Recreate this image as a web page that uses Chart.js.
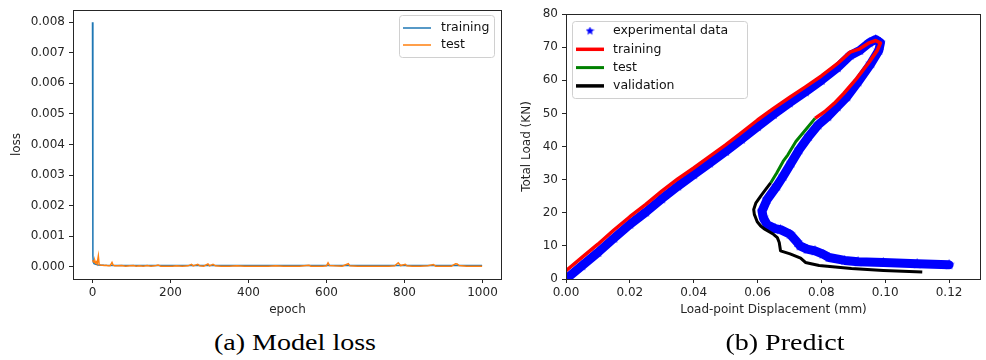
<!DOCTYPE html>
<html><head><meta charset="utf-8">
<script src="https://cdn.jsdelivr.net/npm/chart.js@4.4.1/dist/chart.umd.min.js"></script>
<style>
html,body{margin:0;padding:0;background:#fff;width:986px;height:360px;overflow:hidden;position:relative;}
#c1{position:absolute;left:0;top:0;}
#c2{position:absolute;left:500px;top:0;}
.cap{position:absolute;top:331px;width:240px;text-align:center;font-family:"Liberation Serif","Times New Roman",serif;font-size:23px;line-height:24px;color:#000;transform:scaleX(1.22);white-space:nowrap;}
</style></head><body>
<canvas id="c1" width="504" height="320"></canvas>
<canvas id="c2" width="495" height="320"></canvas>
<div class="cap" style="left:175px">(a) Model loss</div>
<div class="cap" style="left:665px">(b) Predict</div>
<script>
// ---------- (a) Model loss ----------
const lossTicksX = [0, 200, 400, 600, 800, 1000];
const lossTicksY = [0, 0.001, 0.002, 0.003, 0.004, 0.005, 0.006, 0.007, 0.008];
const lossTraining = [[0,0.008],[1,0.00035],[2,0.00015],[4,0.0001],[8,0.00008],[15,0.00006],[30,0.00005],[60,0.00004],[200,0.00004],[500,0.00004],[800,0.00004],[999,0.00004]];
const lossTest = [[0,0.00022],[2,0.00018],[4,0.00015],[6,0.0002],[8,0.00012],[10,0.00016],[12,0.0001],[15,0.00035],[17,0.00008],[20,0.00006],[25,0.00005],[30,0.00004],[35,0.00005],[40,0.00003],[45,0.00003],[50,0.00014],[53,0.00005],[57,0.00003],[65,0.00003],[75,0.00004],[85,0.00002],[95,0.00003],[105,0.00004],[112,0.00002],[120,0.00003],[130,0.00002],[140,0.00004],[150,0.00002],[160,0.00003],[168,0.00006],[175,0.00002],[190,0.00002],[205,0.00002],[215,0.00003],[230,0.00002],[245,0.00003],[254,0.00008],[258,0.00003],[270,0.00008],[275,0.00003],[285,0.00002],[296,0.00009],[300,0.00003],[309,0.00008],[315,0.00003],[330,0.00002],[350,0.00002],[370,0.00003],[390,0.00002],[410,0.00002],[430,0.00002],[450,0.00002],[470,0.00003],[490,0.00002],[510,0.00002],[530,0.00002],[555,0.00005],[560,0.00002],[575,0.00002],[590,0.00002],[600,0.00003],[604,0.00013],[608,0.00004],[620,0.00003],[640,0.00002],[656,0.0001],[660,0.00003],[680,0.00002],[700,0.00002],[720,0.00002],[740,0.00002],[760,0.00002],[775,0.00003],[784,0.00013],[790,0.00004],[802,0.00008],[806,0.00003],[820,0.00002],[840,0.00002],[860,0.00003],[874,0.00007],[880,0.00002],[900,0.00002],[920,0.00002],[931,0.0001],[935,0.00009],[940,0.00004],[960,0.00002],[980,0.00002],[999,0.00002]];

// ---------- (b) Predict ----------
const predTicksX = [0, 0.02, 0.04, 0.06, 0.08, 0.10, 0.12];
const predTicksY = [0, 10, 20, 30, 40, 50, 60, 70, 80];
const experimental = [[0,0],[0.005,4],[0.01,8],[0.015,12.3],[0.02,16.5],[0.025,20.2],[0.03,24.2],[0.035,28],[0.04,31.5],[0.045,35],[0.05,38.5],[0.055,42.2],[0.06,46],[0.065,49.7],[0.07,53.2],[0.075,56.5],[0.08,60],[0.085,63.8],[0.089,67.5],[0.092,69],[0.095,71.3],[0.097,72.3],[0.0985,71.3],[0.098,69],[0.0955,65],[0.0915,59.5],[0.088,55],[0.085,52],[0.082,49],[0.079,46.5],[0.076,43],[0.073,39],[0.0705,35],[0.068,31],[0.066,28],[0.063,24],[0.0614,20.5],[0.0618,18.5],[0.063,16.4],[0.0655,15.2],[0.0672,14.9],[0.0702,13.5],[0.0725,11],[0.0733,10],[0.0755,9],[0.078,8.5],[0.0805,7.5],[0.0824,6.5],[0.0873,5.6],[0.0915,5.2],[0.0994,5],[0.11,4.6],[0.12,4.3]];
const training = [[0,2.5],[0.005,6.5],[0.01,10.5],[0.015,14.8],[0.02,18.8],[0.025,22.5],[0.03,26.5],[0.035,30.2],[0.04,33.5],[0.045,37],[0.05,40.5],[0.055,44.2],[0.06,48],[0.065,51.5],[0.07,54.8],[0.075,58],[0.08,61.3],[0.085,65],[0.089,68.5],[0.092,69.5],[0.095,71.3],[0.097,72],[0.0985,71.2],[0.0975,69],[0.095,65.5],[0.091,60.5],[0.087,56],[0.084,53],[0.081,50.5],[0.078,48.5]];
const test = [[0.078,48.5],[0.075,45],[0.072,41.5],[0.0695,37.5],[0.068,35.5],[0.066,32],[0.0641,29]];
const validation = [[0.0641,29],[0.0625,27],[0.0611,25.2],[0.0595,23],[0.0588,21],[0.059,19.5],[0.0599,17.3],[0.061,16],[0.062,15.2],[0.065,13.5],[0.0662,12.5],[0.0668,11],[0.0672,8.5],[0.0702,7.6],[0.0735,6.3],[0.075,5],[0.0793,4.1],[0.0894,3.2],[0.0994,2.6],[0.1116,2.1]];

const FONT = {family: "'DejaVu Sans', sans-serif", size: 12};
const INK = '#262626';
const pts = arr => arr.map(p => ({x: p[0], y: p[1]}));

function starImg(size, color) {
  const c = document.createElement('canvas'); c.width = c.height = size;
  const g = c.getContext('2d'); const r = size / 2, ri = r * 0.45;
  g.beginPath();
  for (let i = 0; i < 10; i++) {
    const rr = i % 2 ? ri : r; const a = -Math.PI / 2 + i * Math.PI / 5;
    g.lineTo(r + rr * Math.cos(a), r + rr * Math.sin(a));
  }
  g.closePath(); g.fillStyle = color; g.fill(); return c;
}
const starPoint = starImg(11, '#0000ff');
const starLegend = starImg(9, '#0000ff');

function xAxis(min, max, ticks, fmt, title, titlePad, height) {
  return {
    type: 'linear', min, max,
    afterBuildTicks: s => { s.ticks = ticks.map(v => ({value: v})); },
    afterFit: s => { s.height = height; s.paddingLeft = 0; s.paddingRight = 0; },
    grid: {display: true, drawOnChartArea: false, drawTicks: true, tickLength: 4, color: INK, lineWidth: 1},
    border: {display: false},
    ticks: {color: INK, font: FONT, padding: 3, maxRotation: 0, autoSkip: false, callback: v => fmt(v)},
    title: {display: true, text: title, color: INK, font: FONT, padding: {top: 0, bottom: titlePad}}
  };
}
function yAxis(min, max, ticks, fmt, title, titlePad, width) {
  return {
    type: 'linear', min, max,
    afterBuildTicks: s => { s.ticks = ticks.map(v => ({value: v})); },
    afterFit: s => { s.width = width; s.paddingTop = 0; s.paddingBottom = 0; },
    grid: {display: true, drawOnChartArea: false, drawTicks: true, tickLength: 4, color: INK, lineWidth: 1},
    border: {display: false},
    ticks: {color: INK, font: FONT, padding: 4, autoSkip: false, callback: v => fmt(v)},
    title: {display: true, text: title, color: INK, font: FONT, padding: {top: titlePad, bottom: 0}}
  };
}

const framePlugin = {
  id: 'frame',
  afterDatasetsDraw(chart) {
    const {ctx, chartArea: a} = chart;
    ctx.save(); ctx.strokeStyle = INK; ctx.lineWidth = 1;
    ctx.strokeRect(a.left + 0.5, a.top + 0.5, a.right - a.left - 1, a.bottom - a.top);
    ctx.restore();
  }
};

function legendPlugin(cfg) {
  return {
    id: 'boxLegend',
    afterDraw(chart) {
      const {ctx, chartArea: a} = chart;
      const x0 = cfg.anchor === 'right' ? a.right - cfg.dx - cfg.w : a.left + cfg.dx;
      const y0 = a.top + cfg.dy;
      ctx.save();
      ctx.beginPath();
      if (ctx.roundRect) ctx.roundRect(x0 + 0.5, y0 + 0.5, cfg.w, cfg.h, 3); else ctx.rect(x0 + 0.5, y0 + 0.5, cfg.w, cfg.h);
      ctx.fillStyle = 'rgba(255,255,255,0.85)'; ctx.fill();
      ctx.strokeStyle = '#d0d0d0'; ctx.lineWidth = 1; ctx.stroke();
      cfg.items.forEach((it, i) => {
        const y = y0 + cfg.first + i * cfg.gap;
        if (it.star) {
          ctx.drawImage(it.star, x0 + 18 - it.star.width / 2, y - it.star.height / 2);
        } else {
          ctx.beginPath(); ctx.strokeStyle = it.color; ctx.lineWidth = it.width;
          ctx.moveTo(x0 + 4, y); ctx.lineTo(x0 + 32, y); ctx.stroke();
        }
        ctx.fillStyle = '#111'; ctx.font = "12.5px 'DejaVu Sans', sans-serif";
        ctx.textBaseline = 'middle'; ctx.textAlign = 'left';
        ctx.fillText(it.label, x0 + cfg.textX, y);
      });
      ctx.restore();
    }
  };
}

new Chart(document.getElementById('c1'), {
  type: 'line',
  data: {datasets: [
    {label: 'training', data: pts(lossTraining), borderColor: '#1f77b4', borderWidth: 1.5, pointRadius: 0, order: 2},
    {label: 'test', data: pts(lossTest), borderColor: '#ff7f0e', borderWidth: 1.5, pointRadius: 0, order: 1}
  ]},
  options: {
    responsive: false, animation: false, devicePixelRatio: 1,
    layout: {padding: {left: 0, right: 2, top: 10, bottom: 0}},
    plugins: {legend: {display: false}, tooltip: {enabled: false}},
    scales: {
      x: xAxis(-50, 1050, lossTicksX, v => String(v), 'epoch', 3, 41),
      y: yAxis(-0.0004, 0.0084, lossTicksY, v => v.toFixed(3), 'loss', 10, 73)
    }
  },
  plugins: [framePlugin, legendPlugin({anchor: 'right', dx: 8, dy: 5, w: 95, h: 42, first: 13, gap: 17, textX: 42,
    items: [{label: 'training', color: '#1f77b4', width: 1.5}, {label: 'test', color: '#ff7f0e', width: 1.5}]})]
});

new Chart(document.getElementById('c2'), {
  type: 'line',
  data: {datasets: [
    {label: 'experimental data', data: pts(experimental), borderColor: '#0000ff', borderWidth: 9,
     borderCapStyle: 'round', borderJoinStyle: 'round', pointStyle: starPoint, pointRadius: 5, order: 4},
    {label: 'training', data: pts(training), borderColor: '#ff0000', borderWidth: 3.5, pointRadius: 0, borderJoinStyle: 'round', order: 3},
    {label: 'test', data: pts(test), borderColor: '#008000', borderWidth: 3, pointRadius: 0, borderJoinStyle: 'round', order: 2},
    {label: 'validation', data: pts(validation), borderColor: '#000000', borderWidth: 3, pointRadius: 0, borderJoinStyle: 'round', order: 1}
  ]},
  options: {
    responsive: false, animation: false, devicePixelRatio: 1,
    layout: {padding: {left: 0, right: 2, top: 6, bottom: 0}},
    plugins: {legend: {display: false}, tooltip: {enabled: false}},
    scales: {
      x: xAxis(0, 0.13, predTicksX, v => v.toFixed(2), 'Load-point Displacement (mm)', 3, 41),
      y: yAxis(0, 80, predTicksY, v => String(v), 'Total Load (KN)', 20, 66)
    }
  },
  plugins: [framePlugin, legendPlugin({anchor: 'left', dx: 6, dy: 7, w: 175, h: 77, first: 10, gap: 18.3, textX: 41,
    items: [{label: 'experimental data', star: starLegend}, {label: 'training', color: '#ff0000', width: 3.5},
            {label: 'test', color: '#008000', width: 3}, {label: 'validation', color: '#000000', width: 3.5}]})]
});
</script></body></html>
